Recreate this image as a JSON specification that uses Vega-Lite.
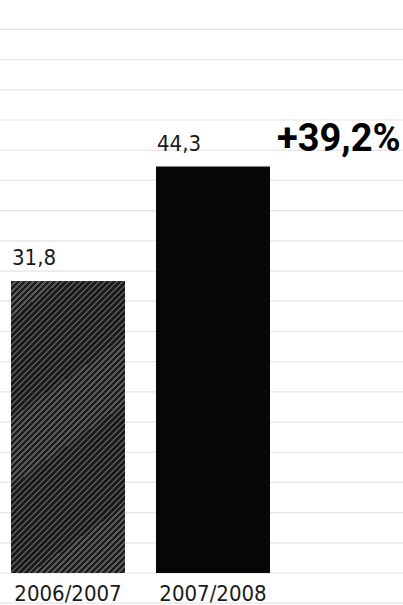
{
  "$schema": "https://vega.github.io/schema/vega-lite/v6.json",
  "width": 403,
  "height": 605,
  "padding": 0,
  "autosize": {"type": "none"},
  "background": "#ffffff",
  "config": {"view": {"stroke": null}},
  "datasets": {
    "bars": [
      {"year": "2006/2007", "value": 31.8, "label": "31,8"},
      {"year": "2007/2008", "value": 44.3, "label": "44,3"}
    ],
    "change": [
      {"year": "2007/2008", "value": 44.3, "label": "+39,2%"}
    ],
    "lines": [
      {"v": -3.29}, {"v": 0}, {"v": 3.29}, {"v": 6.58}, {"v": 9.87}, {"v": 13.16}, {"v": 16.45},
      {"v": 19.74}, {"v": 23.03}, {"v": 26.32}, {"v": 29.62}, {"v": 32.91}, {"v": 36.2},
      {"v": 39.49}, {"v": 42.78}, {"v": 46.07}, {"v": 49.37}, {"v": 52.66}, {"v": 55.95}, {"v": 59.24}
    ]
  },
  "layer": [
    {
      "data": {"name": "lines"},
      "mark": {"type": "rule", "stroke": "#e4e4e4", "strokeWidth": 1.2},
      "encoding": {
        "y": {"field": "v", "type": "quantitative",
              "scale": {"domain": [-3.49, 62.45], "nice": false, "zero": false},
              "axis": null}
      }
    },
    {
      "data": {"name": "bars"},
      "mark": {"type": "bar", "fill": "#070707"},
      "encoding": {
        "x": {"field": "year", "type": "nominal", "axis": null,
              "scale": {"type": "band", "range": [11, 270], "paddingInner": 0.214, "paddingOuter": 0}},
        "y": {"field": "value", "type": "quantitative"},
        "y2": {"datum": 0}
      }
    },
    {
      "data": {"name": "bars"},
      "transform": [{"filter": "datum.year == '2006/2007'"}],
      "mark": {"type": "bar", "fill": {"gradient": "linear", "x1": 0, "y1": 0, "x2": 0.4706, "y2": 1.2066, "stops": [
        {"offset":0,"color":"#1a1a1a"},{"offset":0.00882,"color":"#1a1a1a"},{"offset":0.00882,"color":"#585858"},{"offset":0.01471,"color":"#585858"},
        {"offset":0.01471,"color":"#1a1a1a"},{"offset":0.02353,"color":"#1a1a1a"},{"offset":0.02353,"color":"#585858"},{"offset":0.02941,"color":"#585858"},
        {"offset":0.02941,"color":"#1a1a1a"},{"offset":0.03824,"color":"#1a1a1a"},{"offset":0.03824,"color":"#585858"},{"offset":0.04412,"color":"#585858"},
        {"offset":0.04412,"color":"#1a1a1a"},{"offset":0.05294,"color":"#1a1a1a"},{"offset":0.05294,"color":"#585858"},{"offset":0.05882,"color":"#585858"},
        {"offset":0.05882,"color":"#1a1a1a"},{"offset":0.06765,"color":"#1a1a1a"},{"offset":0.06765,"color":"#585858"},{"offset":0.07353,"color":"#585858"},
        {"offset":0.07353,"color":"#1a1a1a"},{"offset":0.08235,"color":"#1a1a1a"},{"offset":0.08235,"color":"#585858"},{"offset":0.08824,"color":"#585858"},
        {"offset":0.08824,"color":"#1a1a1a"},{"offset":0.09706,"color":"#1a1a1a"},{"offset":0.09706,"color":"#585858"},{"offset":0.10294,"color":"#585858"},
        {"offset":0.10294,"color":"#1a1a1a"},{"offset":0.11176,"color":"#1a1a1a"},{"offset":0.11176,"color":"#585858"},{"offset":0.11765,"color":"#585858"},
        {"offset":0.11765,"color":"#1a1a1a"},{"offset":0.12647,"color":"#1a1a1a"},{"offset":0.12647,"color":"#585858"},{"offset":0.13235,"color":"#585858"},
        {"offset":0.13235,"color":"#1a1a1a"},{"offset":0.14118,"color":"#1a1a1a"},{"offset":0.14118,"color":"#585858"},{"offset":0.14706,"color":"#585858"},
        {"offset":0.14706,"color":"#1a1a1a"},{"offset":0.15588,"color":"#1a1a1a"},{"offset":0.15588,"color":"#585858"},{"offset":0.16176,"color":"#585858"},
        {"offset":0.16176,"color":"#1a1a1a"},{"offset":0.17059,"color":"#1a1a1a"},{"offset":0.17059,"color":"#585858"},{"offset":0.17647,"color":"#585858"},
        {"offset":0.17647,"color":"#1a1a1a"},{"offset":0.18529,"color":"#1a1a1a"},{"offset":0.18529,"color":"#585858"},{"offset":0.19118,"color":"#585858"},
        {"offset":0.19118,"color":"#1a1a1a"},{"offset":0.2,"color":"#1a1a1a"},{"offset":0.2,"color":"#585858"},{"offset":0.20588,"color":"#585858"},
        {"offset":0.20588,"color":"#1a1a1a"},{"offset":0.21471,"color":"#1a1a1a"},{"offset":0.21471,"color":"#585858"},{"offset":0.22059,"color":"#585858"},
        {"offset":0.22059,"color":"#1a1a1a"},{"offset":0.22941,"color":"#1a1a1a"},{"offset":0.22941,"color":"#585858"},{"offset":0.23529,"color":"#585858"},
        {"offset":0.23529,"color":"#1a1a1a"},{"offset":0.24412,"color":"#1a1a1a"},{"offset":0.24412,"color":"#585858"},{"offset":0.25,"color":"#585858"},
        {"offset":0.25,"color":"#1a1a1a"},{"offset":0.25882,"color":"#1a1a1a"},{"offset":0.25882,"color":"#585858"},{"offset":0.26471,"color":"#585858"},
        {"offset":0.26471,"color":"#1a1a1a"},{"offset":0.27353,"color":"#1a1a1a"},{"offset":0.27353,"color":"#585858"},{"offset":0.27941,"color":"#585858"},
        {"offset":0.27941,"color":"#1a1a1a"},{"offset":0.28824,"color":"#1a1a1a"},{"offset":0.28824,"color":"#585858"},{"offset":0.29412,"color":"#585858"},
        {"offset":0.29412,"color":"#1a1a1a"},{"offset":0.30294,"color":"#1a1a1a"},{"offset":0.30294,"color":"#585858"},{"offset":0.30882,"color":"#585858"},
        {"offset":0.30882,"color":"#1a1a1a"},{"offset":0.31765,"color":"#1a1a1a"},{"offset":0.31765,"color":"#585858"},{"offset":0.32353,"color":"#585858"},
        {"offset":0.32353,"color":"#1a1a1a"},{"offset":0.33235,"color":"#1a1a1a"},{"offset":0.33235,"color":"#585858"},{"offset":0.33824,"color":"#585858"},
        {"offset":0.33824,"color":"#1a1a1a"},{"offset":0.34706,"color":"#1a1a1a"},{"offset":0.34706,"color":"#585858"},{"offset":0.35294,"color":"#585858"},
        {"offset":0.35294,"color":"#1a1a1a"},{"offset":0.36176,"color":"#1a1a1a"},{"offset":0.36176,"color":"#585858"},{"offset":0.36765,"color":"#585858"},
        {"offset":0.36765,"color":"#1a1a1a"},{"offset":0.37647,"color":"#1a1a1a"},{"offset":0.37647,"color":"#585858"},{"offset":0.38235,"color":"#585858"},
        {"offset":0.38235,"color":"#1a1a1a"},{"offset":0.39118,"color":"#1a1a1a"},{"offset":0.39118,"color":"#585858"},{"offset":0.39706,"color":"#585858"},
        {"offset":0.39706,"color":"#1a1a1a"},{"offset":0.40588,"color":"#1a1a1a"},{"offset":0.40588,"color":"#585858"},{"offset":0.41176,"color":"#585858"},
        {"offset":0.41176,"color":"#1a1a1a"},{"offset":0.42059,"color":"#1a1a1a"},{"offset":0.42059,"color":"#585858"},{"offset":0.42647,"color":"#585858"},
        {"offset":0.42647,"color":"#1a1a1a"},{"offset":0.43529,"color":"#1a1a1a"},{"offset":0.43529,"color":"#585858"},{"offset":0.44118,"color":"#585858"},
        {"offset":0.44118,"color":"#1a1a1a"},{"offset":0.45,"color":"#1a1a1a"},{"offset":0.45,"color":"#585858"},{"offset":0.45588,"color":"#585858"},
        {"offset":0.45588,"color":"#1a1a1a"},{"offset":0.46471,"color":"#1a1a1a"},{"offset":0.46471,"color":"#585858"},{"offset":0.47059,"color":"#585858"},
        {"offset":0.47059,"color":"#1a1a1a"},{"offset":0.47941,"color":"#1a1a1a"},{"offset":0.47941,"color":"#585858"},{"offset":0.48529,"color":"#585858"},
        {"offset":0.48529,"color":"#1a1a1a"},{"offset":0.49412,"color":"#1a1a1a"},{"offset":0.49412,"color":"#585858"},{"offset":0.5,"color":"#585858"},
        {"offset":0.5,"color":"#1a1a1a"},{"offset":0.50882,"color":"#1a1a1a"},{"offset":0.50882,"color":"#585858"},{"offset":0.51471,"color":"#585858"},
        {"offset":0.51471,"color":"#1a1a1a"},{"offset":0.52353,"color":"#1a1a1a"},{"offset":0.52353,"color":"#585858"},{"offset":0.52941,"color":"#585858"},
        {"offset":0.52941,"color":"#1a1a1a"},{"offset":0.53824,"color":"#1a1a1a"},{"offset":0.53824,"color":"#585858"},{"offset":0.54412,"color":"#585858"},
        {"offset":0.54412,"color":"#1a1a1a"},{"offset":0.55294,"color":"#1a1a1a"},{"offset":0.55294,"color":"#585858"},{"offset":0.55882,"color":"#585858"},
        {"offset":0.55882,"color":"#1a1a1a"},{"offset":0.56765,"color":"#1a1a1a"},{"offset":0.56765,"color":"#585858"},{"offset":0.57353,"color":"#585858"},
        {"offset":0.57353,"color":"#1a1a1a"},{"offset":0.58235,"color":"#1a1a1a"},{"offset":0.58235,"color":"#585858"},{"offset":0.58824,"color":"#585858"},
        {"offset":0.58824,"color":"#1a1a1a"},{"offset":0.59706,"color":"#1a1a1a"},{"offset":0.59706,"color":"#585858"},{"offset":0.60294,"color":"#585858"},
        {"offset":0.60294,"color":"#1a1a1a"},{"offset":0.61176,"color":"#1a1a1a"},{"offset":0.61176,"color":"#585858"},{"offset":0.61765,"color":"#585858"},
        {"offset":0.61765,"color":"#1a1a1a"},{"offset":0.62647,"color":"#1a1a1a"},{"offset":0.62647,"color":"#585858"},{"offset":0.63235,"color":"#585858"},
        {"offset":0.63235,"color":"#1a1a1a"},{"offset":0.64118,"color":"#1a1a1a"},{"offset":0.64118,"color":"#585858"},{"offset":0.64706,"color":"#585858"},
        {"offset":0.64706,"color":"#1a1a1a"},{"offset":0.65588,"color":"#1a1a1a"},{"offset":0.65588,"color":"#585858"},{"offset":0.66176,"color":"#585858"},
        {"offset":0.66176,"color":"#1a1a1a"},{"offset":0.67059,"color":"#1a1a1a"},{"offset":0.67059,"color":"#585858"},{"offset":0.67647,"color":"#585858"},
        {"offset":0.67647,"color":"#1a1a1a"},{"offset":0.68529,"color":"#1a1a1a"},{"offset":0.68529,"color":"#585858"},{"offset":0.69118,"color":"#585858"},
        {"offset":0.69118,"color":"#1a1a1a"},{"offset":0.7,"color":"#1a1a1a"},{"offset":0.7,"color":"#585858"},{"offset":0.70588,"color":"#585858"},
        {"offset":0.70588,"color":"#1a1a1a"},{"offset":0.71471,"color":"#1a1a1a"},{"offset":0.71471,"color":"#585858"},{"offset":0.72059,"color":"#585858"},
        {"offset":0.72059,"color":"#1a1a1a"},{"offset":0.72941,"color":"#1a1a1a"},{"offset":0.72941,"color":"#585858"},{"offset":0.73529,"color":"#585858"},
        {"offset":0.73529,"color":"#1a1a1a"},{"offset":0.74412,"color":"#1a1a1a"},{"offset":0.74412,"color":"#585858"},{"offset":0.75,"color":"#585858"},
        {"offset":0.75,"color":"#1a1a1a"},{"offset":0.75882,"color":"#1a1a1a"},{"offset":0.75882,"color":"#585858"},{"offset":0.76471,"color":"#585858"},
        {"offset":0.76471,"color":"#1a1a1a"},{"offset":0.77353,"color":"#1a1a1a"},{"offset":0.77353,"color":"#585858"},{"offset":0.77941,"color":"#585858"},
        {"offset":0.77941,"color":"#1a1a1a"},{"offset":0.78824,"color":"#1a1a1a"},{"offset":0.78824,"color":"#585858"},{"offset":0.79412,"color":"#585858"},
        {"offset":0.79412,"color":"#1a1a1a"},{"offset":0.80294,"color":"#1a1a1a"},{"offset":0.80294,"color":"#585858"},{"offset":0.80882,"color":"#585858"},
        {"offset":0.80882,"color":"#1a1a1a"},{"offset":0.81765,"color":"#1a1a1a"},{"offset":0.81765,"color":"#585858"},{"offset":0.82353,"color":"#585858"},
        {"offset":0.82353,"color":"#1a1a1a"},{"offset":0.83235,"color":"#1a1a1a"},{"offset":0.83235,"color":"#585858"},{"offset":0.83824,"color":"#585858"},
        {"offset":0.83824,"color":"#1a1a1a"},{"offset":0.84706,"color":"#1a1a1a"},{"offset":0.84706,"color":"#585858"},{"offset":0.85294,"color":"#585858"},
        {"offset":0.85294,"color":"#1a1a1a"},{"offset":0.86176,"color":"#1a1a1a"},{"offset":0.86176,"color":"#585858"},{"offset":0.86765,"color":"#585858"},
        {"offset":0.86765,"color":"#1a1a1a"},{"offset":0.87647,"color":"#1a1a1a"},{"offset":0.87647,"color":"#585858"},{"offset":0.88235,"color":"#585858"},
        {"offset":0.88235,"color":"#1a1a1a"},{"offset":0.89118,"color":"#1a1a1a"},{"offset":0.89118,"color":"#585858"},{"offset":0.89706,"color":"#585858"},
        {"offset":0.89706,"color":"#1a1a1a"},{"offset":0.90588,"color":"#1a1a1a"},{"offset":0.90588,"color":"#585858"},{"offset":0.91176,"color":"#585858"},
        {"offset":0.91176,"color":"#1a1a1a"},{"offset":0.92059,"color":"#1a1a1a"},{"offset":0.92059,"color":"#585858"},{"offset":0.92647,"color":"#585858"},
        {"offset":0.92647,"color":"#1a1a1a"},{"offset":0.93529,"color":"#1a1a1a"},{"offset":0.93529,"color":"#585858"},{"offset":0.94118,"color":"#585858"},
        {"offset":0.94118,"color":"#1a1a1a"},{"offset":0.95,"color":"#1a1a1a"},{"offset":0.95,"color":"#585858"},{"offset":0.95588,"color":"#585858"},
        {"offset":0.95588,"color":"#1a1a1a"},{"offset":0.96471,"color":"#1a1a1a"},{"offset":0.96471,"color":"#585858"},{"offset":0.97059,"color":"#585858"},
        {"offset":0.97059,"color":"#1a1a1a"},{"offset":0.97941,"color":"#1a1a1a"},{"offset":0.97941,"color":"#585858"},{"offset":0.98529,"color":"#585858"},
        {"offset":0.98529,"color":"#1a1a1a"},{"offset":0.99412,"color":"#1a1a1a"},{"offset":0.99412,"color":"#585858"},{"offset":1,"color":"#585858"}
      ]}},
      "encoding": {
        "x": {"field": "year", "type": "nominal"},
        "y": {"field": "value", "type": "quantitative"},
        "y2": {"datum": 0}
      }
    },
    {
      "data": {"name": "bars"},
      "mark": {"type": "text", "align": "left", "baseline": "alphabetic", "dx": 1, "dy": -16,
               "font": "DejaVu Sans Condensed, sans-serif", "fontSize": 22, "fill": "#1a1a1a"},
      "encoding": {
        "x": {"field": "year", "type": "nominal", "bandPosition": 0},
        "y": {"field": "value", "type": "quantitative"},
        "text": {"field": "label"}
      }
    },
    {
      "data": {"name": "bars"},
      "mark": {"type": "text", "align": "center", "baseline": "alphabetic",
               "font": "DejaVu Sans Condensed, sans-serif", "fontSize": 22, "fill": "#1a1a1a"},
      "encoding": {
        "x": {"field": "year", "type": "nominal"},
        "y": {"datum": -3.1},
        "text": {"field": "year"}
      }
    },
    {
      "data": {"name": "change"},
      "mark": {"type": "text", "align": "left", "baseline": "alphabetic", "dx": 7, "dy": -16,
               "font": "Roboto", "fontWeight": "bold", "fontSize": 38, "fill": "#000000"},
      "encoding": {
        "x": {"field": "year", "type": "nominal", "bandPosition": 1},
        "y": {"field": "value", "type": "quantitative"},
        "text": {"field": "label"}
      }
    }
  ]
}
